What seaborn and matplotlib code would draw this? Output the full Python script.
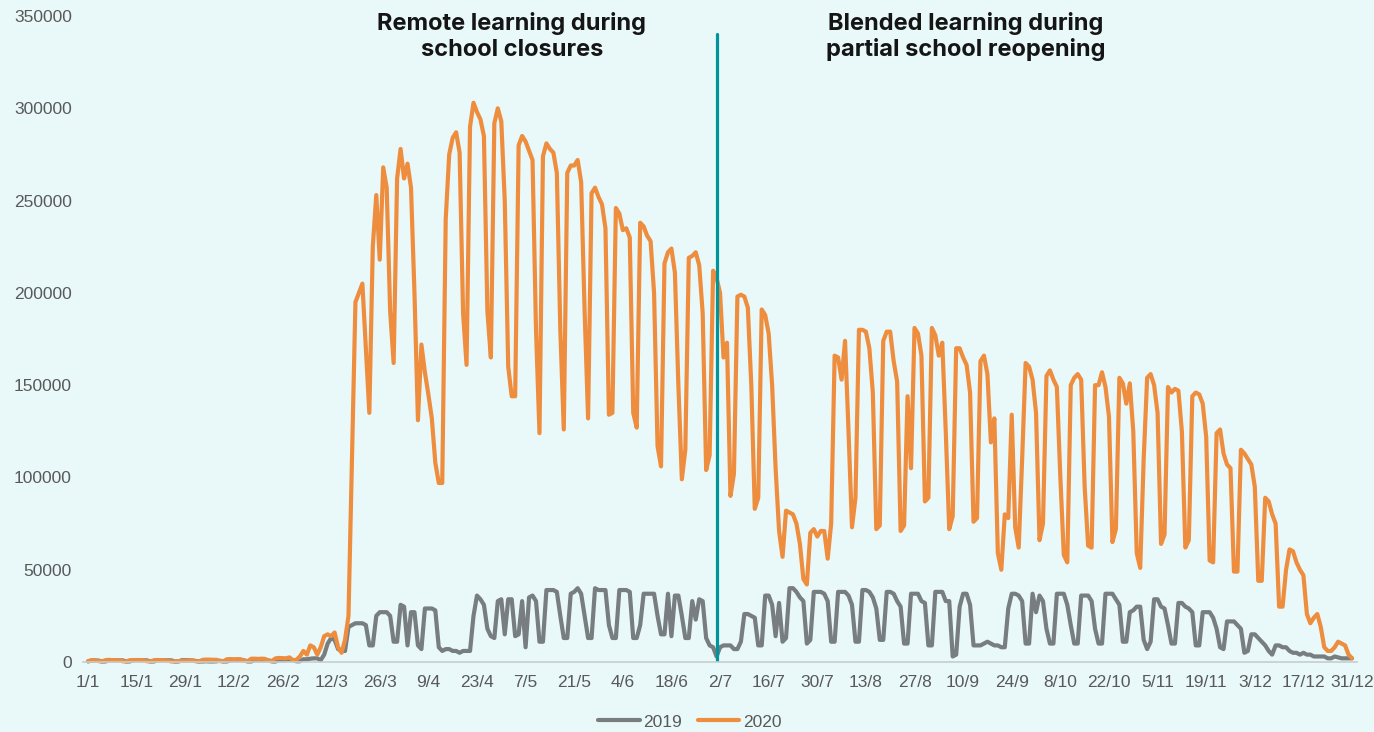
import pandas as pd
import matplotlib.pyplot as plt
import seaborn as sns

# Daily visits in thousands, 1 Jan .. 31 Dec (7 days per row)
visits_2019 = [
    0.3, 0.8, 0.8, 0.8, 0.3, 0.3, 0.9,
    1.0, 1.0, 0.9, 0.9, 0.3, 0.3, 1.0,
    1.0, 1.0, 1.0, 0.9, 0.3, 0.3, 1.0,
    1.0, 1.0, 1.0, 0.9, 0.3, 0.3, 1.0,
    1.0, 1.0, 0.8, 0.6, 0.3, 0.3, 0.4,
    0.3, 0.3, 0.4, 0.7, 0.3, 0.3, 0.9,
    1.0, 1.0, 1.0, 0.9, 0.3, 0.3, 1.0,
    1.0, 1.0, 1.0, 0.9, 0.3, 0.3, 1.0,
    1.0, 1.0, 1.2, 1.0, 0.4, 0.4, 1.5,
    1.5, 1.8, 2.0, 2.0, 1.0, 4.0, 10,
    13, 12, 7, 6, 6, 19, 20,
    21, 21, 21, 20, 9, 9, 25,
    27, 27, 27, 25, 11, 11, 31,
    30, 9, 27, 27, 9, 7, 29,
    29, 29, 28, 8, 6, 7, 7,
    6, 6, 5, 6, 6, 6, 25,
    36, 34, 31, 18, 14, 13, 33,
    34, 15, 34, 34, 14, 15, 33,
    8, 35, 36, 33, 11, 11, 39,
    39, 39, 38, 25, 13, 13, 37,
    38, 40, 37, 25, 13, 13, 40,
    39, 39, 39, 20, 13, 13, 39,
    39, 39, 38, 13, 13, 20, 37,
    37, 37, 37, 25, 15, 15, 37,
    14, 36, 36, 25, 13, 13, 33,
    23, 34, 33, 13, 9, 8, 3,
    8, 9, 9, 9, 7, 7, 11,
    26, 26, 25, 24, 9, 9, 36,
    36, 31, 14, 32, 11, 13, 40,
    40, 38, 35, 33, 10, 12, 38,
    38, 38, 37, 33, 11, 11, 38,
    38, 38, 36, 31, 11, 11, 39,
    39, 38, 35, 29, 12, 12, 38,
    38, 37, 33, 30, 10, 10, 37,
    37, 37, 33, 32, 9, 9, 38,
    38, 38, 33, 33, 3, 4, 30,
    37, 37, 31, 9, 9, 9, 10,
    11, 10, 9, 9, 8, 8, 29,
    37, 37, 36, 33, 10, 10, 37,
    27, 36, 33, 18, 10, 10, 37,
    37, 37, 31, 20, 10, 10, 36,
    36, 36, 33, 18, 10, 10, 37,
    37, 37, 34, 31, 11, 11, 27,
    28, 30, 30, 12, 7, 11, 34,
    34, 30, 29, 20, 10, 10, 32,
    32, 30, 29, 27, 9, 9, 27,
    27, 27, 24, 18, 8, 7, 22,
    22, 22, 20, 18, 5, 6, 15,
    15, 13, 11, 9, 6, 4, 9,
    9, 8, 8, 6, 5, 5, 4,
    5, 4, 4, 3, 3, 3, 3,
    2, 2, 3, 2.5, 2, 2, 2,
    2,
]

visits_2020 = [
    0.5, 1.0, 1.0, 0.5, 0.3, 1.0, 1.2,
    1.0, 1.0, 1.0, 0.4, 0.3, 1.0, 1.0,
    1.1, 1.0, 1.0, 0.4, 0.3, 1.0, 1.1,
    1.0, 1.0, 0.8, 0.3, 0.3, 0.5, 0.6,
    0.6, 0.8, 1.0, 0.4, 0.3, 1.2, 1.3,
    1.3, 1.2, 1.2, 0.5, 0.4, 1.5, 1.6,
    1.5, 1.6, 1.5, 0.6, 0.5, 1.8, 1.8,
    1.7, 1.8, 1.7, 0.7, 0.6, 2.0, 2.2,
    2.1, 2.0, 2.5, 1.0, 1.2, 3.0, 6.0,
    4.0, 9.0, 8.0, 4.0, 8.0, 14, 15,
    14, 16, 8, 5, 12, 25, 110,
    195, 200, 205, 170, 135, 225, 253,
    218, 268, 257, 190, 162, 262, 278,
    262, 270, 257, 200, 131, 172, 157,
    145, 132, 108, 97, 97, 240, 275,
    284, 287, 276, 189, 161, 290, 303,
    298, 294, 285, 190, 165, 292, 300,
    293, 250, 160, 144, 144, 280, 285,
    282, 277, 272, 180, 124, 274, 281,
    278, 276, 265, 180, 126, 265, 269,
    269, 272, 260, 190, 132, 254, 257,
    252, 248, 235, 134, 135, 246, 243,
    234, 235, 230, 135, 127, 238, 236,
    231, 228, 200, 117, 106, 216, 222,
    224, 211, 150, 99, 115, 219, 220,
    222, 215, 189, 104, 112, 212, 208,
    200, 165, 173, 90, 102, 198, 199,
    198, 192, 150, 83, 89, 191, 188,
    178, 150, 105, 71, 57, 82, 81,
    80, 75, 64, 45, 42, 70, 72,
    68, 71, 71, 56, 75, 166, 165,
    153, 174, 125, 73, 89, 180, 180,
    179, 170, 146, 72, 74, 174, 179,
    179, 163, 152, 71, 74, 144, 105,
    181, 178, 166, 87, 89, 181, 177,
    166, 173, 125, 72, 79, 170, 170,
    165, 161, 146, 76, 78, 163, 166,
    156, 119, 132, 59, 50, 80, 78,
    134, 73, 62, 110, 162, 160, 153,
    135, 66, 75, 155, 158, 153, 149,
    100, 58, 54, 150, 154, 156, 153,
    95, 63, 62, 150, 150, 157, 149,
    133, 65, 72, 154, 151, 140, 151,
    125, 59, 51, 110, 154, 156, 150,
    135, 64, 69, 149, 146, 148, 147,
    125, 62, 66, 144, 146, 145, 140,
    122, 55, 54, 124, 126, 113, 107,
    105, 49, 49, 115, 113, 110, 107,
    95, 44, 44, 89, 87, 80, 75,
    30, 30, 50, 61, 60, 54, 50,
    47, 26, 21, 24, 26, 19, 8,
    6, 6, 8, 11, 10, 9, 4,
    2,
]

tick_labels = ['1/1', '15/1', '29/1', '12/2', '26/2', '12/3', '26/3', '9/4',
               '23/4', '7/5', '21/5', '4/6', '18/6', '2/7', '16/7', '30/7',
               '13/8', '27/8', '10/9', '24/9', '8/10', '22/10', '5/11',
               '19/11', '3/12', '17/12', '31/12']
years = ['2019', '2020']
phase_labels = ['Remote learning during\nschool closures',
                'Blended learning during\npartial school reopening']
split_day = 181  # 1 July: start of partial reopening

bg = '#E9F8F9'
grey_txt = '#595959'
palette = {'2019': '#787D7F', '2020': '#EE8D3E'}

# long-form table
frames = []
for yr, vals in zip(years, [visits_2019, visits_2020]):
    frames.append(pd.DataFrame({'day': range(len(vals)),
                                'views': [v * 1000 for v in vals],
                                'year': yr}))
df = pd.concat(frames, ignore_index=True)

sns.set_style('white', {'axes.facecolor': bg, 'figure.facecolor': bg})
plt.rcParams['font.family'] = ['Liberation Sans', 'DejaVu Sans']

fig, ax = plt.subplots(figsize=(13.74, 7.32), dpi=100)
fig.subplots_adjust(left=0.0603, right=0.9878, bottom=0.0956, top=0.9781)

sns.lineplot(data=df, x='day', y='views', hue='year', hue_order=years,
             palette=palette, linewidth=3.0, estimator=None, ax=ax,
             clip_on=False)

ax.set_xlim(-1.5, 365.5)
ax.set_ylim(0, 350000)
ax.set_yticks(range(0, 350001, 50000))
ax.set_xticks(range(0, 14 * len(tick_labels), 14))
ax.set_xticklabels(tick_labels)
ax.set_xlabel('')
ax.set_ylabel('')

for s in ['top', 'right', 'left']:
    ax.spines[s].set_visible(False)
ax.spines['bottom'].set_color('#C8CDCE')
ax.spines['bottom'].set_linewidth(1.2)
ax.tick_params(axis='x', length=4, width=1, color='#C8CDCE', pad=5,
               labelsize=12.5, labelcolor=grey_txt, direction='out')
ax.tick_params(axis='y', length=0, pad=8, labelsize=12.5, labelcolor=grey_txt)

# divider between the two phases
ax.axvline(split_day, ymin=0, ymax=340 / 350, color='#00959C', linewidth=2.3)

for label, xf in zip(phase_labels, [0.3726, 0.703]):
    fig.text(xf, 0.950, label, ha='center', va='center', fontsize=17,
             fontweight='bold', family=['Inter', 'DejaVu Sans'],
             color='#151515', linespacing=1.2)

handles, labels = ax.get_legend_handles_labels()
ax.get_legend().remove()
fig.legend(handles, labels, loc='center', bbox_to_anchor=(0.502, 0.0137),
           ncol=2, frameon=False, fontsize=12.5, handlelength=2.4,
           handletextpad=0.2, columnspacing=0.9, labelcolor=grey_txt)

fig.savefig('out.png', dpi=100, facecolor=bg)
